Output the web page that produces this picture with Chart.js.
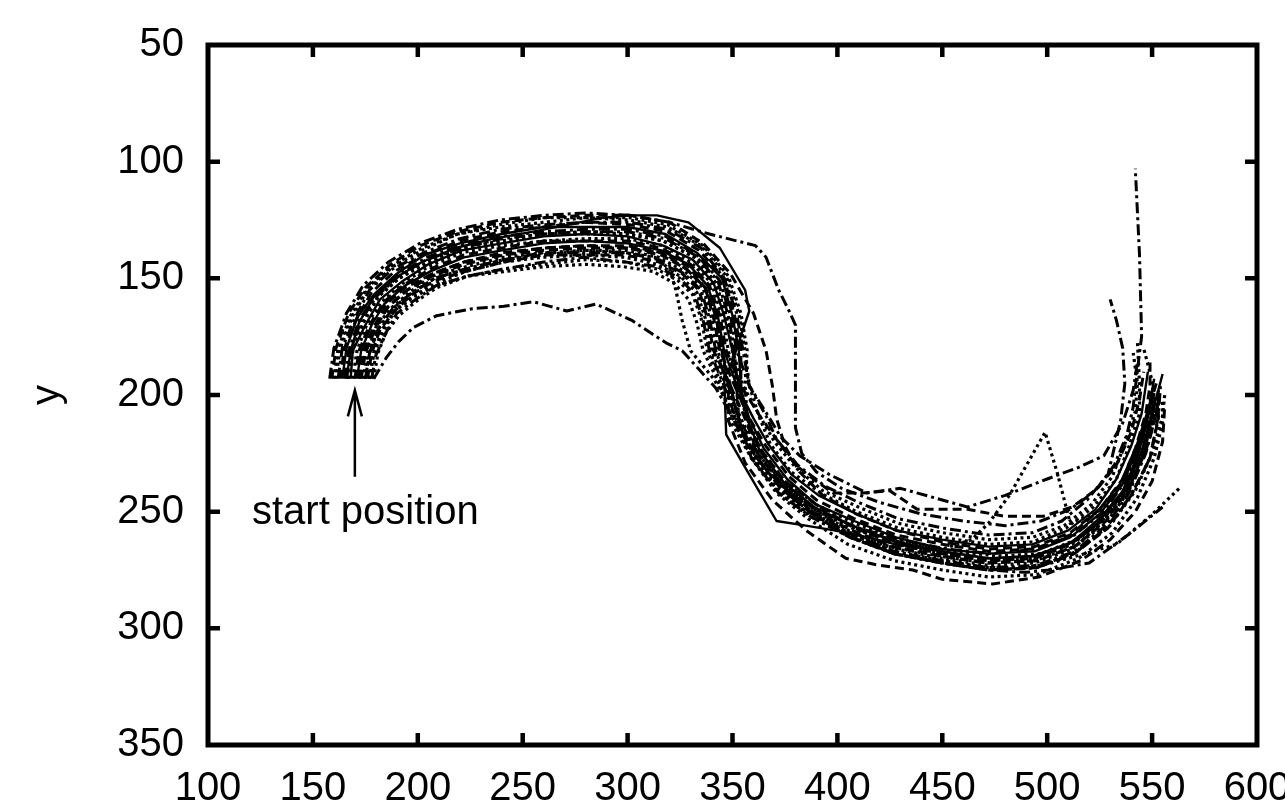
<!DOCTYPE html>
<html>
<head>
<meta charset="utf-8">
<title>start position trajectories</title>
<script src="https://cdn.jsdelivr.net/npm/chart.js@4/dist/chart.umd.min.js"></script>
<style>
  html, body { margin: 0; padding: 0; background: #fff; }
  canvas { display: block; }
</style>
</head>
<body>
<canvas id="myChart" width="1285" height="809"></canvas>
<script>
// axis ranges / ticks
const xTicks = [100, 150, 200, 250, 300, 350, 400, 450, 500, 550, 600];
const yTicks = [50, 100, 150, 200, 250, 300, 350];
const yTitle = 'y';

// annotation (data coords)
const noteText = 'start position';
const noteAt = [175, 250];
const arrowFrom = [170, 235];
const arrowTo = [170, 198];

// recorded trajectories [x, y]
const run01 = [[168,193],[169,181],[175,170],[182,159],[193,151],[205,144],[221,138],[240,135],[260,132],[280,131],[300,132],[317,136],[331,142],[341,152],[346,166],[350,181],[353,196],[358,210],[365,223],[376,236],[390,247],[408,254],[428,261],[450,266],[472,268],[494,267],[511,261],[525,251],[536,238],[543,223],[548,208],[551,193]];
const run02 = [[164,193],[166,180],[171,167],[179,157],[190,148],[203,140],[220,135],[240,131],[260,128],[280,128],[300,128],[318,131],[333,139],[345,150],[350,166],[353,181],[354,196],[357,210],[363,224],[375,238],[389,248],[407,256],[428,263],[450,267],[472,270],[494,269],[512,263],[526,252],[538,239],[545,224],[550,208],[555,191]];
const run03 = [[166,193],[168,181],[172,169],[179,158],[189,150],[202,143],[218,137],[236,133],[255,130],[272,127],[288,124],[303,123],[314,123],[329,126],[344,137],[356,155],[358,164],[349,188],[346,192],[347,217],[356,231],[371,254],[385,256],[405,259],[428,264],[450,267],[472,270],[493,269],[510,264],[524,255],[535,243],[542,229],[547,214],[550,200]];
const run04 = [[171,193],[173,181],[178,170],[184,161],[194,153],[206,147],[222,141],[240,138],[260,135],[280,134],[300,135],[316,138],[329,144],[338,153],[343,166],[346,181],[352,196],[360,210],[367,221],[378,234],[391,243],[409,251],[428,258],[450,262],[472,265],[493,264],[510,258],[523,249],[533,236],[540,222],[545,208],[548,190]];
const run05 = [[160,193],[162,180],[168,166],[176,154],[187,145],[202,137],[219,131],[239,127],[260,124],[280,124],[301,124],[319,127],[336,136],[348,149],[354,165],[357,181],[356,196],[357,210],[363,225],[374,238],[389,249],[407,257],[428,264],[450,268],[472,271],[494,270],[512,264],[527,253],[539,239],[546,224],[551,208],[550,194],[546,180]];
const run06 = [[174,193],[176,182],[180,171],[187,163],[196,156],[207,149],[223,145],[241,141],[260,139],[280,138],[299,138],[315,141],[327,147],[336,154],[340,167],[343,181],[348,196],[351,211],[359,227],[372,242],[387,252],[406,261],[427,268],[450,272],[472,275],[495,274],[514,267],[530,256],[542,241],[550,225],[555,209],[556,200]];
const run07 = [[179,193],[185,184],[191,177],[198,171],[209,166],[226,163],[241,162],[255,160],[263,162],[271,164],[285,161],[302,168],[312,174],[319,178],[326,181],[334,189],[342,197],[349,208],[356,220],[365,231],[377,242],[392,250],[410,257],[430,262],[452,266],[474,268],[495,266],[513,260],[527,250],[538,236],[545,220],[549,204]];
const run08 = [[158,193],[160,180],[166,165],[174,153],[186,143],[201,135],[219,129],[239,125],[260,123],[280,122],[301,123],[320,126],[339,131],[361,136],[366,141],[372,155],[377,164],[380,170],[380,192],[380,214],[383,225],[390,233],[402,240],[420,246],[440,251],[460,254],[480,256],[497,254],[511,249],[523,241],[532,230],[538,217],[541,205],[542,197],[544,182],[545,175],[544,140],[542,103]];
const run09 = [[162,193],[164,180],[170,167],[177,155],[188,146],[203,139],[220,133],[239,129],[260,127],[280,126],[301,126],[319,129],[335,137],[346,150],[352,165],[355,181],[358,196],[366,209],[371,219],[381,230],[394,239],[410,246],[429,253],[450,257],[472,260],[493,259],[507,254],[519,245],[529,234],[535,211],[537,195],[536,180],[533,168],[530,159]];
const run10 = [[169,193],[171,181],[176,169],[183,160],[193,152],[205,145],[221,139],[240,136],[260,134],[280,133],[300,133],[317,136],[330,143],[340,152],[345,166],[348,181],[352,196],[357,210],[364,224],[375,237],[390,247],[408,255],[428,262],[450,266],[464,262],[472,255],[482,243],[499,216],[505,234],[511,255],[525,250],[536,238],[543,223],[548,208],[550,198]];
const run11 = [[165,193],[167,181],[172,168],[180,157],[190,149],[204,141],[220,136],[240,132],[260,130],[280,129],[300,129],[318,132],[333,140],[344,151],[349,166],[352,181],[358,196],[367,209],[373,218],[382,226],[396,234],[414,242],[430,240],[446,244],[462,248],[480,243],[500,236],[515,231],[527,226],[536,212],[541,198],[543,186]];
const run12 = [[172,193],[174,181],[179,171],[185,161],[194,154],[207,148],[222,143],[240,139],[260,137],[280,136],[300,136],[316,139],[329,145],[337,154],[342,166],[345,181],[348,196],[348,211],[356,229],[369,245],[385,258],[404,270],[420,273],[436,275],[450,279],[474,281],[496,278],[516,271],[530,262],[542,250],[550,237],[555,220],[556,205]];
const run13 = [[167,193],[169,181],[174,169],[181,158],[191,150],[205,143],[221,137],[240,134],[260,131],[280,130],[300,131],[317,134],[332,141],[342,152],[347,166],[350,181],[352,196],[353,211],[360,226],[372,241],[387,251],[406,260],[427,267],[450,271],[472,274],[490,274],[502,272],[518,268],[533,264],[549,252],[563,240]];
const run14 = [[175,193],[177,182],[181,172],[188,163],[196,157],[208,150],[223,146],[241,142],[260,140],[280,138],[299,139],[313,141],[320,146],[323,155],[326,168],[330,181],[341,193],[350,207],[358,222],[368,235],[381,245],[396,252],[414,259],[434,264],[455,267],[476,269],[497,268],[514,262],[528,253],[538,241],[545,226],[549,212],[551,200]];
const run15 = [[163,193],[165,180],[171,167],[178,156],[189,147],[203,140],[220,134],[240,130],[260,128],[280,126],[301,127],[319,130],[334,138],[346,150],[351,166],[354,181],[354,196],[356,210],[362,225],[374,239],[388,250],[407,258],[427,265],[450,269],[472,272],[495,271],[513,265],[528,254],[539,240],[547,224],[552,208],[553,198]];
const run16 = [[170,193],[172,181],[177,170],[184,160],[193,153],[206,146],[222,140],[240,137],[260,134],[280,134],[300,134],[316,137],[330,144],[339,153],[344,166],[347,181],[354,196],[363,209],[371,219],[380,230],[390,237],[398,242],[412,242],[425,241],[438,249],[462,249],[480,252],[498,252],[512,248],[524,240],[533,230],[540,216],[544,202],[546,190]];
const run17 = [[161,193],[163,180],[169,166],[176,155],[188,145],[202,138],[219,131],[239,128],[260,126],[280,124],[301,125],[319,128],[335,136],[347,149],[353,165],[356,181],[358,196],[363,210],[368,221],[378,233],[392,242],[409,250],[429,257],[450,261],[472,264],[493,263],[509,257],[522,248],[533,236],[539,222],[544,208],[544,195],[543,177]];
const run18 = [[173,193],[175,182],[180,171],[186,162],[195,155],[207,149],[222,144],[241,140],[260,138],[280,137],[300,137],[316,140],[328,146],[337,154],[341,167],[344,181],[351,196],[358,210],[366,222],[377,235],[390,245],[408,253],[428,260],[450,264],[472,267],[494,266],[511,260],[524,250],[535,238],[542,223],[547,208],[549,196],[549,186]];
const run19 = [[166,193],[168,181],[173,168],[180,158],[191,149],[204,142],[221,137],[240,133],[260,131],[280,130],[300,130],[318,133],[332,140],[343,151],[348,166],[351,181],[352,196],[353,211],[359,227],[372,242],[387,252],[406,261],[427,268],[450,272],[472,275],[490,276],[501,275],[520,272],[540,259],[555,248]];
const run20 = [[167,193],[169,181],[174,169],[181,158],[191,150],[205,143],[221,137],[240,134],[260,131],[280,131],[300,131],[317,134],[332,141],[342,152],[347,166],[350,181],[355,196],[363,209],[370,220],[380,231],[393,241],[410,248],[429,255],[450,259],[472,262],[493,261],[508,256],[521,247],[531,235],[537,221],[542,207],[543,195],[541,182]];
const run21 = [[159,193],[161,180],[167,165],[175,154],[187,144],[201,136],[219,130],[239,126],[260,124],[280,123],[301,123],[320,126],[336,135],[349,148],[360,165],[366,181],[369,196],[371,210],[375,222],[382,233],[393,243],[409,251],[428,258],[450,263],[472,266],[494,265],[511,259],[525,249],[536,236],[543,221],[548,207],[552,195]];
const run22 = [[177,193],[179,182],[184,172],[189,164],[197,158],[209,152],[223,147],[241,143],[259,141],[280,140],[299,141],[314,144],[325,149],[333,156],[337,167],[340,181],[347,196],[354,210],[362,225],[374,238],[389,249],[407,259],[428,266],[450,270],[472,273],[494,272],[512,266],[527,254],[539,240],[546,225],[551,208],[552,200]];
const run23 = [[178,193],[180,183],[185,173],[190,165],[199,159],[209,153],[224,149],[241,146],[260,143],[279,141],[299,143],[314,145],[325,150],[332,157],[336,168],[339,181],[346,196],[352,211],[361,226],[373,240],[388,251],[406,261],[427,268],[450,272],[472,275],[495,274],[513,268],[528,257],[540,243],[549,227],[553,209],[554,196]];
const run24 = [[176,193],[178,182],[182,172],[189,164],[197,157],[208,151],[223,147],[241,143],[260,140],[280,140],[299,140],[315,143],[326,148],[334,155],[338,167],[341,181],[349,196],[356,210],[364,224],[375,237],[390,247],[408,257],[428,264],[450,268],[472,271],[494,270],[511,264],[526,254],[537,241],[544,223],[549,208],[551,197]];
const run25 = [[179,193],[181,182],[185,173],[191,166],[199,160],[209,154],[224,149],[241,146],[260,144],[280,142],[299,143],[314,146],[324,151],[331,157],[335,167],[338,181],[345,196],[349,211],[359,227],[371,242],[386,253],[405,264],[427,271],[450,275],[472,278],[495,277],[515,270],[531,259],[543,244],[551,227],[555,212],[555,203]];
const run26 = [[175,193],[177,182],[181,172],[188,163],[196,157],[208,150],[223,146],[241,142],[260,139],[280,139],[299,139],[315,142],[327,148],[335,155],[339,167],[342,181],[348,196],[353,210],[362,225],[374,239],[388,250],[407,260],[427,267],[450,271],[472,274],[495,273],[513,267],[528,256],[539,242],[547,225],[552,208],[553,203]];
const run27 = [[172,193],[175,181],[179,171],[186,162],[195,155],[207,148],[222,143],[240,140],[260,137],[280,136],[300,137],[316,139],[328,146],[337,154],[342,166],[345,181],[349,196],[353,211],[361,226],[373,240],[388,251],[407,261],[427,268],[450,272],[472,275],[495,274],[513,268],[529,257],[540,243],[549,227],[553,210],[553,198]];
const run28 = [[177,193],[179,182],[183,172],[189,164],[198,158],[209,153],[224,149],[242,147],[260,145],[280,144],[298,145],[312,147],[322,152],[329,159],[333,169],[336,181],[343,194],[349,208],[357,223],[369,238],[384,249],[403,258],[425,265],[448,269],[471,272],[494,271],[513,265],[528,255],[539,241],[546,225],[550,209],[551,198]];

const runs = [run01, run02, run03, run04, run05, run06, run07, run08, run09, run10, run11, run12, run13, run14,
              run15, run16, run17, run18, run19, run20, run21, run22, run23, run24, run25, run26, run27, run28];
const runStyle = ['solid', 'solid', 'solid', 'solid', 'dotted', 'dotted', 'dashdot', 'dashdot', 'dashdot', 'dotted',
                  'dashdot', 'dashed', 'dotted', 'dotted', 'dashed', 'dashed', 'dotted', 'dashed', 'dashdot', 'dotted',
                  'dashed', 'dotted', 'dashdot', 'dashed', 'dotted', 'dashdot', 'dashed', 'dotted'];

const dashes = {
  solid: [],
  dashed: [9, 5],
  dotted: [3, 3.5],
  dashdot: [11, 4, 3, 4]
};
const widths = { solid: 2.4, dashed: 3, dotted: 3.2, dashdot: 3 };

const FONT = "'Liberation Sans', Arial, Helvetica, sans-serif";

const datasets = runs.map((r, i) => ({
  data: r.map(p => ({ x: p[0], y: p[1] })),
  showLine: true,
  borderColor: '#000',
  borderWidth: widths[runStyle[i]],
  borderDash: dashes[runStyle[i]],
  borderCapStyle: 'butt',
  borderJoinStyle: 'round',
  pointRadius: 0,
  tension: 0,
  fill: false
}));

// frame with inward ticks on all four sides
const framePlugin = {
  id: 'frame',
  afterDraw(chart) {
    const { ctx, chartArea: a, scales: { x, y } } = chart;
    ctx.save();
    ctx.strokeStyle = '#000';
    ctx.lineWidth = 4.5;
    ctx.beginPath();
    x.ticks.forEach(t => {
      const px = x.getPixelForValue(t.value);
      if (Math.abs(px - a.left) < 2 || Math.abs(px - a.right) < 2) return;
      ctx.moveTo(px, a.bottom); ctx.lineTo(px, a.bottom - 12);
      ctx.moveTo(px, a.top); ctx.lineTo(px, a.top + 12);
    });
    y.ticks.forEach(t => {
      const py = y.getPixelForValue(t.value);
      if (Math.abs(py - a.top) < 2 || Math.abs(py - a.bottom) < 2) return;
      ctx.moveTo(a.left, py); ctx.lineTo(a.left + 12, py);
      ctx.moveTo(a.right, py); ctx.lineTo(a.right - 12, py);
    });
    ctx.stroke();
    ctx.lineWidth = 5;
    ctx.strokeRect(a.left, a.top, a.right - a.left, a.bottom - a.top);
    ctx.restore();
  }
};

// arrow + label
const notePlugin = {
  id: 'note',
  afterDatasetsDraw(chart) {
    const { ctx, scales: { x, y } } = chart;
    const x0 = x.getPixelForValue(arrowFrom[0]), y0 = y.getPixelForValue(arrowFrom[1]);
    const x1 = x.getPixelForValue(arrowTo[0]), y1 = y.getPixelForValue(arrowTo[1]);
    ctx.save();
    ctx.strokeStyle = '#000';
    ctx.lineWidth = 2.5;
    ctx.beginPath();
    ctx.moveTo(x0, y0); ctx.lineTo(x1, y1);
    ctx.moveTo(x1 - 7, y1 + 26); ctx.lineTo(x1, y1); ctx.lineTo(x1 + 7, y1 + 26);
    ctx.stroke();
    ctx.fillStyle = '#000';
    ctx.font = '40px ' + FONT;
    ctx.textAlign = 'center';
    ctx.textBaseline = 'alphabetic';
    ctx.fillText(noteText, x.getPixelForValue(noteAt[0]), y.getPixelForValue(noteAt[1]) + 12);
    ctx.restore();
  }
};

const ctx = document.getElementById('myChart');

new Chart(ctx, {
  type: 'scatter',
  data: { datasets: datasets },
  options: {
    responsive: false,
    animation: false,
    events: [],
    layout: { padding: { top: 45, right: 28, left: 0, bottom: 0 } },
    plugins: {
      legend: { display: false },
      tooltip: { enabled: false }
    },
    scales: {
      x: {
        type: 'linear',
        position: 'bottom',
        min: xTicks[0],
        max: xTicks[xTicks.length - 1],
        afterBuildTicks: s => { s.ticks = xTicks.map(v => ({ value: v })); },
        ticks: {
          color: '#000',
          font: { family: FONT, size: 40 },
          padding: 20,
          maxRotation: 0,
          autoSkip: false
        },
        grid: { display: false, drawTicks: false },
        border: { display: false },
        afterFit: s => { s.height = 64; s.paddingLeft = 0; s.paddingRight = 0; }
      },
      y: {
        type: 'linear',
        reverse: true,
        min: yTicks[0],
        max: yTicks[yTicks.length - 1],
        afterBuildTicks: s => { s.ticks = yTicks.map(v => ({ value: v })); },
        ticks: {
          color: '#000',
          font: { family: FONT, size: 40 },
          padding: 24,
          autoSkip: false
        },
        grid: { display: false, drawTicks: false },
        border: { display: false },
        title: {
          display: true,
          text: yTitle,
          color: '#000',
          font: { family: FONT, size: 40 },
          padding: { top: 24, bottom: 0 }
        },
        afterFit: s => { s.width = 208; s.paddingTop = 0; s.paddingBottom = 0; }
      }
    }
  },
  plugins: [framePlugin, notePlugin]
});
</script>
</body>
</html>
